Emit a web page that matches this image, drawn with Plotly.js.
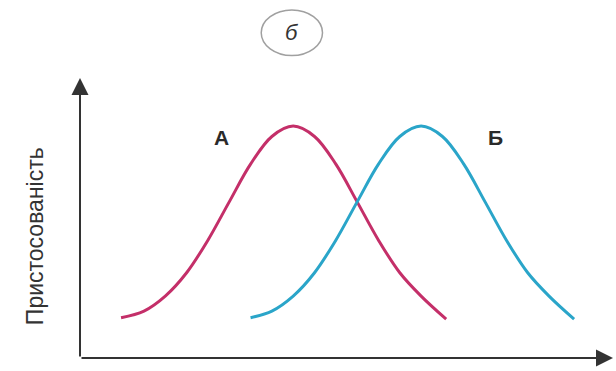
<!DOCTYPE html>
<html>
<head>
<meta charset="utf-8">
<script src="https://cdn.plot.ly/plotly-3.0.1.min.js"></script>
<style>html,body{margin:0;padding:0;background:#fff;}#chart{width:616px;height:371px;}</style>
</head>
<body>
<div id="chart"></div>
<script>
// Curve A (fitness distribution)
const xA = [7.7, 12, 16, 20, 24, 28, 32, 36, 40, 44, 48, 52, 56, 60, 64, 68.7];
const yA = [14.0, 16.3, 21.5, 29.6, 40.9, 54.2, 67.3, 76.9, 80.5, 76.9, 67.3, 54.2, 40.9, 29.6, 21.5, 13.5];
// Curve Б
const xB = [32, 36, 40, 44, 48, 52, 56, 60, 64, 68, 72, 76, 80, 84, 88, 92.7];
const yB = [14.0, 16.3, 21.5, 29.6, 40.9, 54.2, 67.3, 76.9, 80.5, 76.9, 67.3, 54.2, 40.9, 29.6, 21.5, 13.5];
const curveLabels = ["А", "Б"];
const yTitle = "Пристосованість";
const panelLabel = "б";

const traces = [
  {x: xA, y: yA, mode: "lines", line: {color: "#c42f69", width: 3, shape: "spline"}, hoverinfo: "skip"},
  {x: xB, y: yB, mode: "lines", line: {color: "#2aa5c9", width: 3, shape: "spline"}, hoverinfo: "skip"}
];

const layout = {
  width: 616, height: 371,
  margin: {l: 80, r: 3, t: 78, b: 13, pad: 0},
  paper_bgcolor: "#fff", plot_bgcolor: "#fff",
  showlegend: false,
  xaxis: {range: [0, 100], showgrid: false, zeroline: false, showticklabels: false, ticks: "", showline: false, fixedrange: true},
  yaxis: {range: [0, 97.2], showgrid: false, zeroline: false, showticklabels: false, ticks: "", showline: false, fixedrange: true},
  shapes: [
    {type: "circle", xref: "paper", yref: "paper", x0: 0.340, x1: 0.455, y0: 1.08, y1: 1.243,
     line: {color: "#a0a0a0", width: 1.5}}
  ],
  annotations: [
    // x axis arrow
    {xref: "paper", yref: "paper", x: 1, y: 0, ax: -533, ay: 0, axref: "pixel", ayref: "pixel",
     showarrow: true, arrowhead: 2, arrowsize: 1.7, arrowwidth: 2, arrowcolor: "#333", text: ""},
    // y axis arrow
    {xref: "paper", yref: "paper", x: 0, y: 1, ax: 0, ay: 280, axref: "pixel", ayref: "pixel",
     showarrow: true, arrowhead: 2, arrowsize: 1.7, arrowwidth: 2, arrowcolor: "#333", text: ""},
    {xref: "x", yref: "y", x: 26.6, y: 76.7, text: "<b>" + curveLabels[0] + "</b>", showarrow: false,
     xanchor: "center", yanchor: "middle",
     font: {family: "Liberation Sans, Arial, sans-serif", size: 21, color: "#2a2a2a"}},
    {xref: "x", yref: "y", x: 77.9, y: 76.7, text: "<b>" + curveLabels[1] + "</b>", showarrow: false,
     xanchor: "center", yanchor: "middle",
     font: {family: "Liberation Sans, Arial, sans-serif", size: 21, color: "#2a2a2a"}},
    {xref: "paper", yref: "paper", x: -0.084, y: 0.436, text: yTitle, textangle: -90, showarrow: false,
     xanchor: "center", yanchor: "middle",
     font: {family: "Liberation Sans, Arial, sans-serif", size: 23, color: "#333"}},
    {xref: "paper", yref: "paper", x: 0.398, y: 1.162, text: panelLabel, showarrow: false,
     xanchor: "center", yanchor: "middle",
     font: {family: "Liberation Sans, Arial, sans-serif", size: 22, color: "#333", style: "italic"}}
  ]
};

Plotly.newPlot("chart", traces, layout, {displayModeBar: false, staticPlot: true});
</script>
</body>
</html>
